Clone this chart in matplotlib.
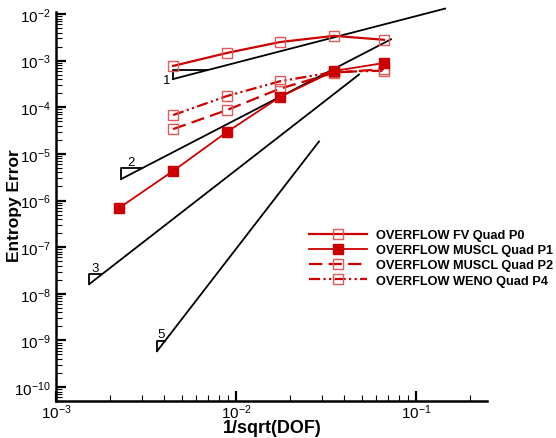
import numpy as np
import matplotlib
matplotlib.use("Agg")
import matplotlib.pyplot as plt
from matplotlib.ticker import LogLocator, NullFormatter

plt.rcParams['font.family'] = ['Liberation Sans', 'DejaVu Sans']
plt.rcParams['mathtext.fontset'] = 'custom'
plt.rcParams['mathtext.rm'] = 'Liberation Sans'
plt.rcParams['mathtext.it'] = 'Liberation Sans:italic'
plt.rcParams['mathtext.bf'] = 'Liberation Sans:bold'

# ---------------- data ----------------
h_coarse = [0.00447, 0.0089, 0.0175, 0.035, 0.0664]
h_p1 = [0.00224, 0.00447, 0.0089, 0.0175, 0.035, 0.0664]

err_fv_p0 = [7.7e-4, 1.46e-3, 2.5e-3, 3.4e-3, 2.8e-3]
err_muscl_p1 = [6.9e-7, 4.3e-6, 2.95e-5, 1.65e-4, 6.0e-4, 8.9e-4]
err_muscl_p2 = [3.4e-5, 8.7e-5, 2.5e-4, 5.5e-4, 6.6e-4]
err_weno_p4 = [6.8e-5, 1.74e-4, 3.6e-4, 5.7e-4, 6.1e-4]

series_labels = ['OVERFLOW FV Quad P0', 'OVERFLOW MUSCL Quad P1',
                 'OVERFLOW MUSCL Quad P2', 'OVERFLOW WENO Quad P4']

# reference slope lines
ref_orders = [1, 2, 3, 5]
ref_x_start = [0.00447, 0.0023, 0.00153, 0.00364]
ref_x_end = [0.145, 0.0726, 0.0482, 0.0289]
ref_y_start = [4.03e-4, 2.88e-6, 1.61e-8, 5.86e-10]
tri_logwidth = [0.19, 0.115, 0.07, 0.045]

# ---------------- figure ----------------
W, H = 556, 439
fig = plt.figure(figsize=(W / 100, H / 100), dpi=100)
ax = fig.add_axes([56 / W, 1 - 402 / H, (487 - 56) / W, (402 - 13) / H])
ax.set_xscale('log')
ax.set_yscale('log')
ax.set_xlim(1e-3, 10 ** -0.606)
ax.set_ylim(10 ** -10.3, 10 ** -1.957)

red = '#cc0000'
light = '#e05a5a'

ax.plot(h_coarse, err_fv_p0, color=red, lw=1.6, marker='s', ms=7.5,
        mfc='none', mec=light, mew=1.0, label=series_labels[0], zorder=5)
ax.plot(h_p1, err_muscl_p1, color=red, lw=1.3, marker='s', ms=7.5,
        mfc=red, mec=red, mew=1.0, label=series_labels[1], zorder=6)
ax.plot(h_coarse, err_muscl_p2, color=red, lw=1.6, ls=(0, (6, 2.8)), marker='s', ms=7.5,
        mfc='none', mec=light, mew=1.0, label=series_labels[2], zorder=5)
ax.plot(h_coarse, err_weno_p4, color=red, lw=1.6, ls=(0, (5, 1.5, 1, 1.5, 1, 1.5)),
        marker='s', ms=7.5, mfc='none', mec=light, mew=1.0,
        label=series_labels[3], zorder=5)

for p, x0, x1, y0, tw in zip(ref_orders, ref_x_start, ref_x_end, ref_y_start, tri_logwidth):
    ax.plot([x0, x1], [y0, y0 * (x1 / x0) ** p], color='black', lw=1.3, zorder=3,
            clip_on=False)
    xt = x0 * 10 ** tw
    yt = y0 * (xt / x0) ** p
    ax.plot([x0, x0, xt], [y0, yt, yt], color='black', lw=1.3, zorder=3)
    if p == 1:
        ax.annotate(str(p), (x0, y0), xytext=(-2, -1), textcoords='offset points',
                    ha='right', va='center', fontsize=9.5)
    else:
        ax.annotate(str(p), (np.sqrt(x0 * xt), yt), xytext=(0, 0.5),
                    textcoords='offset points', ha='center', va='bottom', fontsize=9.5)

# axes styling
for s in ['top', 'right']:
    ax.spines[s].set_visible(False)
for s in ['left', 'bottom']:
    ax.spines[s].set_linewidth(1.8)

ax.xaxis.set_major_locator(LogLocator(base=10, numticks=20))
ax.xaxis.set_minor_locator(LogLocator(base=10, subs=np.arange(2, 10), numticks=50))
ax.yaxis.set_major_locator(LogLocator(base=10, numticks=20))
ax.yaxis.set_minor_locator(LogLocator(base=10, subs=np.arange(2, 10), numticks=50))
ax.xaxis.set_minor_formatter(NullFormatter())
ax.yaxis.set_minor_formatter(NullFormatter())
ax.tick_params(which='major', direction='in', length=7, width=1.6, labelsize=11, pad=4)
ax.tick_params(axis='x', which='major', pad=1)
ax.tick_params(which='minor', direction='in', length=4, width=0.8)
ax.tick_params(top=False, right=False, which='both')

ax.set_xlabel('1/sqrt(DOF)', fontsize=13, fontweight='bold')
ax.set_ylabel('Entropy Error', fontsize=12.5, fontweight='bold')
ax.xaxis.set_label_coords(0.501, -0.045)
ax.yaxis.set_label_coords(-0.08, 0.505)

leg = ax.legend(loc='upper left', bbox_to_anchor=(309 / W, 1 - 230 / H),
                bbox_transform=fig.transFigure, frameon=False, borderpad=0,
                borderaxespad=0, handlelength=4.5, handletextpad=0.75,
                labelspacing=0.25, numpoints=1, prop={'weight': 'bold', 'size': 9.2})

fig.savefig('out.png', dpi=100)
